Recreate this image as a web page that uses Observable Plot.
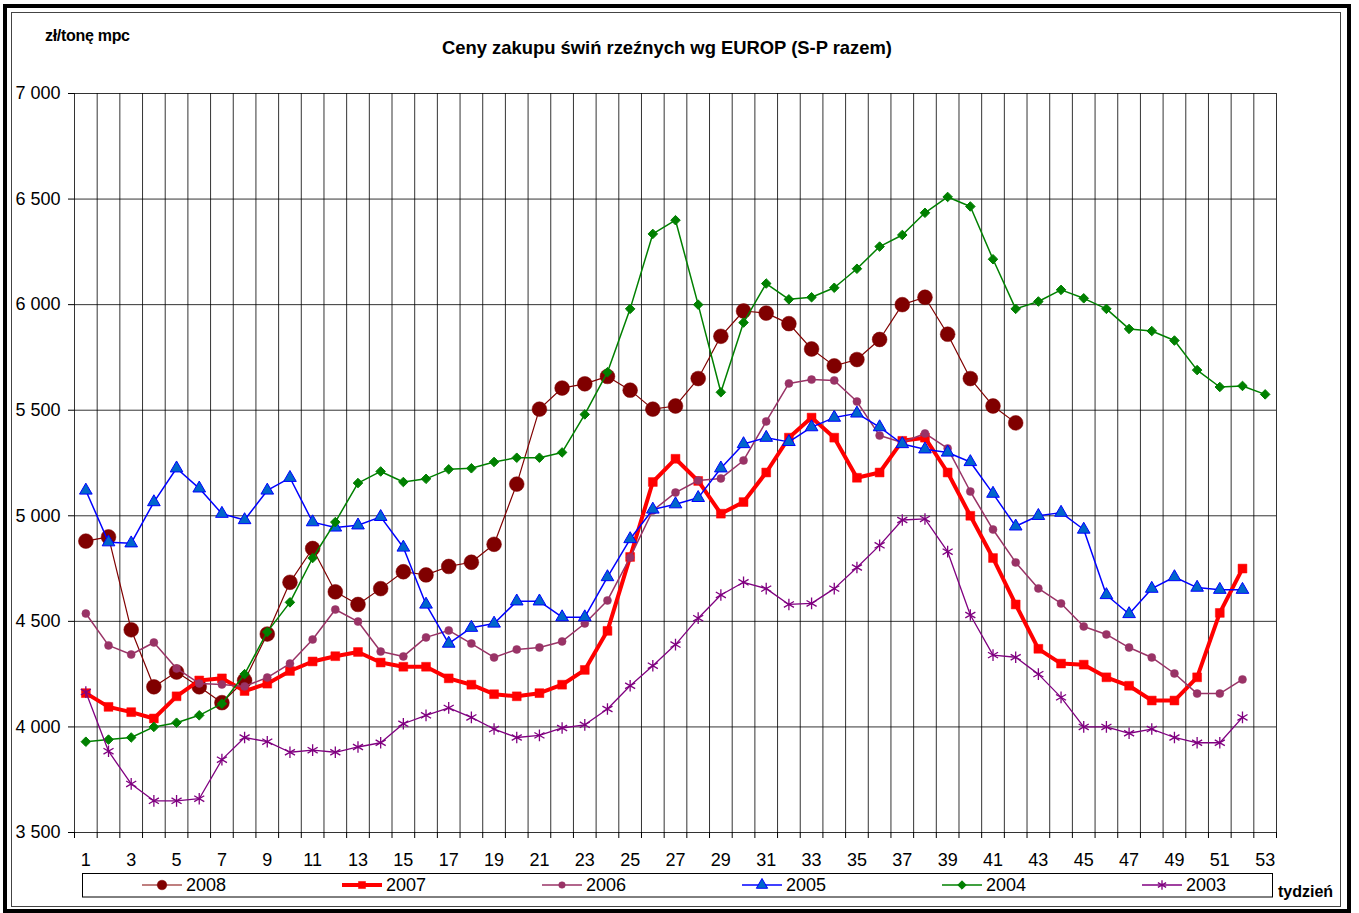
<!DOCTYPE html>
<html>
<head>
<meta charset="utf-8">
<script src="https://cdn.jsdelivr.net/npm/d3@7"></script>
<script src="https://cdn.jsdelivr.net/npm/@observablehq/plot@0.6"></script>
<style>
  body { margin: 0; background: #fff; font-family: "Liberation Sans", Arial, sans-serif; }
  #wrap { position: relative; width: 1359px; height: 913px; overflow: hidden; background: #fff; }
  #chart { position: absolute; left: 0; top: 0; }
  .abs { position: absolute; }
  #outer { left: 3px; top: 4px; width: 1348px; height: 909px; border: 4px solid #000; box-sizing: border-box; }
  #inner { left: 11px; top: 12px; width: 1330px; height: 895px; border: 1px solid #444; box-sizing: border-box; }
  #title { left: 0; width: 1334px; text-align: center; top: 38px; font-weight: bold; font-size: 18.4px; line-height: 20px; color: #000; }
  #unit { left: 45px; top: 26px; font-weight: bold; font-size: 16px; line-height: 20px; letter-spacing: -0.3px; color: #000; }
  #tydz { left: 1278px; top: 882px; font-weight: bold; font-size: 16px; line-height: 20px; color: #000; }
  #legend { left: 0; top: 0; }
</style>
</head>
<body>
<div id="wrap">
  <div id="outer" class="abs"></div>
  <div id="inner" class="abs"></div>
  <div id="chart"></div>
  <div id="title" class="abs">Ceny zakupu świń rzeźnych wg EUROP (S-P razem)</div>
  <div id="unit" class="abs">zł/tonę mpc</div>
  <div id="tydz" class="abs">tydzień</div>
</div>
<script>
// ---- data ----
const years = ["2008", "2007", "2006", "2005", "2004", "2003"];

const y2008 = [4880,4900,4460,4190,4260,4190,4115,4220,4440,4685,4845,4640,4580,4655,4735,4720,4760,4780,4865,5150,
               5505,5605,5625,5660,5595,5505,5520,5650,5850,5970,5960,5910,5790,5710,5740,5835,6000,6035,5860,5650,
               5520,5440];
const y2007 = [4160,4095,4070,4040,4145,4220,4230,4170,4205,4265,4310,4335,4355,4305,4285,4285,4230,4200,4155,4145,
               4160,4200,4270,4455,4805,5160,5270,5165,5010,5065,5205,5370,5465,5370,5180,5205,5355,5370,5205,5000,
               4800,4580,4370,4300,4295,4235,4195,4125,4125,4235,4540,4750];
const y2006 = [4537,4386,4343,4400,4277,4206,4201,4192,4234,4300,4414,4556,4499,4357,4334,4424,4457,4395,4329,4367,
               4376,4405,4490,4599,4803,5025,5110,5167,5177,5262,5447,5627,5645,5641,5541,5380,5347,5390,5319,5115,
               4935,4779,4656,4585,4476,4438,4376,4329,4253,4158,4158,4225];
const y2005 = [5120,4875,4870,5065,5225,5130,5010,4980,5120,5180,4970,4945,4955,4995,4850,4580,4395,4470,4490,4595,
               4595,4520,4520,4710,4890,5030,5055,5085,5225,5340,5370,5350,5420,5465,5485,5420,5340,5315,5300,5255,
               5105,4950,5000,5015,4935,4625,4535,4655,4710,4660,4650,4650];
const y2004 = [3930,3940,3950,4000,4020,4055,4110,4250,4450,4590,4800,4970,5155,5210,5160,5175,5220,5225,5255,5275,
               5275,5300,5480,5680,5980,6335,6400,6000,5585,5915,6100,6025,6035,6080,6170,6275,6330,6435,6510,6465,
               6215,5980,6015,6070,6030,5980,5885,5875,5830,5690,5610,5615,5575];
const y2003 = [4165,3885,3730,3650,3650,3660,3845,3950,3930,3880,3890,3880,3905,3925,4015,4055,4090,4045,3990,3950,
               3960,3995,4010,4085,4195,4290,4390,4515,4625,4685,4655,4580,4585,4655,4755,4860,4980,4985,4830,4530,
               4340,4330,4250,4140,4000,4000,3970,3990,3950,3925,3925,4045];

const xTickLabels = d3.range(1, 54, 2);          // 1,3,...,53
const weekBounds = d3.range(0.5, 54, 1);         // category boundaries
const yTicks = d3.range(3500, 7001, 500);

// ---- styles per series ----
const styles = {
  "2008": {values: y2008, stroke: "#800000", sw: 1.2, symbol: "circle",   r: 7.4, fill: "#800000", mstroke: "#800000", msw: 0.5, lr: 4.8},
  "2007": {values: y2007, stroke: "#FF0000", sw: 4,   symbol: "square",   r: 5,   fill: "#FF0000", mstroke: "#FF0000", msw: 0.5, lr: 4},
  "2006": {values: y2006, stroke: "#993366", sw: 1.5, symbol: "circle",   r: 4,   fill: "#993366", mstroke: "#993366", msw: 0.5, lr: 3.3},
  "2005": {values: y2005, stroke: "#0000FF", sw: 1.5, symbol: "triangle", r: 4.7, fill: "#0066CC", mstroke: "#0000FF", msw: 1,   lr: 4.2},
  "2004": {values: y2004, stroke: "#008000", sw: 1.5, symbol: "diamond2", r: 4.3, fill: "#008000", mstroke: "#008000", msw: 1,   lr: 3.8},
  "2003": {values: y2003, stroke: "#800080", sw: 1.3, symbol: "asterisk", r: 5.5, fill: "none",    mstroke: "#800080", msw: 1.3, lr: 4.5}
};

const fmt = d => d3.format(",")(d).replace(/,/g, " ");

const marks = [
  Plot.ruleY(yTicks, {y: d => d, stroke: "#000", strokeWidth: 1, strokeOpacity: 0.8}),
  Plot.ruleX(weekBounds, {x: d => d, stroke: "#000", strokeWidth: 1, strokeOpacity: 0.8}),
  Plot.axisY({ticks: yTicks, tickSize: 6, tickPadding: 8, tickFormat: fmt, fontSize: 18, label: null, stroke: "#000"}),
  Plot.axisX({ticks: weekBounds, tickSize: 6, tickFormat: () => "", label: null, stroke: "#000"}),
  Plot.axisX({ticks: xTickLabels, tickSize: 0, tickPadding: 21, fontSize: 18, label: null})
];

for (const yr of years) {
  const s = styles[yr];
  const data = s.values.map((v, i) => ({week: i + 1, value: v}));
  marks.push(Plot.line(data, {x: "week", y: "value", stroke: s.stroke, strokeWidth: s.sw, strokeLinejoin: "miter"}));
  marks.push(Plot.dot(data, {x: "week", y: "value", symbol: s.symbol, r: s.r, fill: s.fill, stroke: s.mstroke, strokeWidth: s.msw}));
}

const chart = Plot.plot({
  width: 1359,
  height: 913,
  marginLeft: 74,
  marginRight: 83,
  marginTop: 93,
  marginBottom: 81,
  style: {fontFamily: "'Liberation Sans', Arial, sans-serif", fontSize: "18px", color: "#000", background: "transparent"},
  x: {type: "linear", domain: [0.5, 53.5]},
  y: {type: "linear", domain: [3500, 7000]},
  marks
});
document.getElementById("chart").appendChild(chart);

// ---- legend (below the plot area) ----
const symMap = {circle: d3.symbolCircle, square: d3.symbolSquare, triangle: d3.symbolTriangle, diamond2: d3.symbolDiamond2, asterisk: d3.symbolAsterisk};
const lg = d3.select("#wrap").append("svg")
  .attr("id", "legend").attr("class", "abs")
  .attr("width", 1359).attr("height", 913)
  .style("position", "absolute").style("left", "0px").style("top", "0px").style("pointer-events", "none");
lg.append("rect").attr("x", 82.5).attr("y", 873.5).attr("width", 1190).attr("height", 23.5)
  .attr("fill", "#fff").attr("stroke", "#000").attr("stroke-width", 1);
years.forEach((yr, i) => {
  const s = styles[yr];
  const x0 = 142 + 200 * i, cy = 885;
  lg.append("line").attr("x1", x0).attr("x2", x0 + 40).attr("y1", cy).attr("y2", cy)
    .attr("stroke", s.stroke).attr("stroke-width", s.sw);
  lg.append("path").attr("transform", `translate(${x0 + 20},${cy})`)
    .attr("d", d3.symbol().type(symMap[s.symbol]).size(Math.PI * s.lr * s.lr)())
    .attr("fill", s.fill).attr("stroke", s.mstroke).attr("stroke-width", s.msw);
  lg.append("text").attr("x", x0 + 44).attr("y", cy).attr("dy", "0.35em")
    .attr("font-family", "'Liberation Sans', Arial, sans-serif").attr("font-size", 18).attr("fill", "#000")
    .text(yr);
});
</script>
</body>
</html>
